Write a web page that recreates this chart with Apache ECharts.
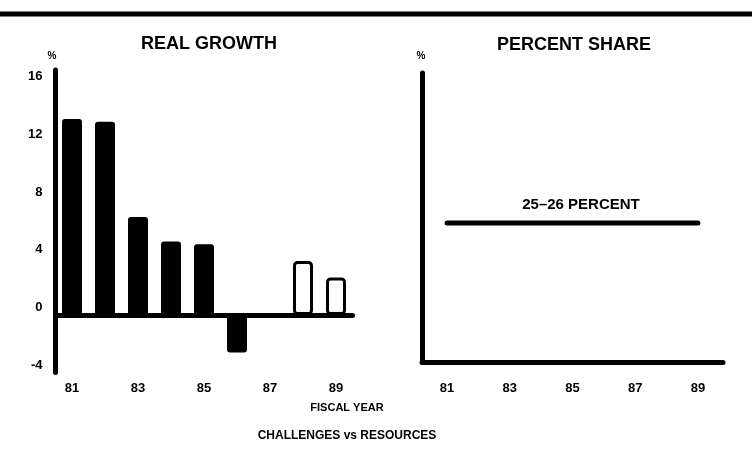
<!DOCTYPE html>
<html>
<head>
<meta charset="utf-8">
<script src="https://cdn.jsdelivr.net/npm/echarts@6/dist/echarts.min.js"></script>
<style>
html,body{margin:0;padding:0;background:#fff;}
#c{width:752px;height:456px;}
</style>
</head>
<body>
<div id="c"></div>
<script>
// ---- data ----
const growthYears = ['81','82','83','84','85','86','87','88','89'];
const growthValues = [13.6, 13.4, 6.8, 5.1, 4.9, -2.6, null, 3.75, 2.6];
const projectedYears = ['88','89']; // drawn as outline bars
const growthTicks = [-4, 0, 4, 8, 12, 16];

const shareYears = [81, 82, 83, 84, 85, 86, 87, 88, 89];
const shareValues = [25.5, 25.5, 25.5, 25.5, 25.5, 25.5, 25.5, 25.5, 25.5];
const shareTickLabels = [81, 83, 85, 87, 89];

const titleLeft = 'REAL GROWTH';
const titleRight = 'PERCENT SHARE';
const shareLabel = '25–26 PERCENT';
const xAxisName = 'FISCAL YEAR';
const caption = 'CHALLENGES vs RESOURCES';

// ---- chart ----
const FONT = '"Liberation Sans", Arial, sans-serif';
const chart = echarts.init(document.getElementById('c'), null, {renderer: 'canvas'});

const barData = growthValues.map((v, i) => {
  if (projectedYears.indexOf(growthYears[i]) >= 0) {
    return {value: v, itemStyle: {color: '#fff', borderColor: '#000', borderWidth: 3}};
  }
  return v;
});

const option = {
  animation: false,
  backgroundColor: '#fff',
  grid: [
    {left: 55.5, top: 70, width: 297, height: 302.6},
    {left: 422, top: 73, right: 29, bottom: 94}
  ],
  xAxis: [
    {
      gridIndex: 0, type: 'category', data: growthYears, boundaryGap: true,
      axisLine: {onZero: true, lineStyle: {color: '#000', width: 5, cap: 'round'}},
      axisTick: {show: false}, axisLabel: {show: false}, splitLine: {show: false}
    },
    {
      gridIndex: 0, type: 'category', data: growthYears, boundaryGap: true, position: 'bottom',
      axisLine: {show: false, onZero: false}, axisTick: {show: false},
      axisLabel: {interval: 1, margin: 9, color: '#000', fontFamily: FONT, fontWeight: 'bold', fontSize: 13},
      splitLine: {show: false}
    },
    {
      gridIndex: 1, type: 'value', min: 80.2, max: 89.8,
      axisLine: {onZero: false, lineStyle: {color: '#000', width: 5, cap: 'round'}},
      axisTick: {show: false},
      axisLabel: {customValues: shareTickLabels, margin: 20, color: '#000', fontFamily: FONT, fontWeight: 'bold', fontSize: 13},
      splitLine: {show: false}
    }
  ],
  yAxis: [
    {
      gridIndex: 0, type: 'value', min: -4, max: 17, interval: 4,
      axisLine: {show: true, onZero: false, lineStyle: {color: '#000', width: 5, cap: 'round'}},
      axisTick: {show: false},
      axisLabel: {
        margin: 13, color: '#000', fontFamily: FONT, fontWeight: 'bold', fontSize: 13,
        verticalAlign: 'bottom', padding: [0, 0, 1, 0],
        customValues: growthTicks
      },
      splitLine: {show: false}
    },
    {
      gridIndex: 1, type: 'value', min: 0, max: 53,
      axisLine: {show: true, onZero: false, lineStyle: {color: '#000', width: 5, cap: 'round'}},
      axisTick: {show: false}, axisLabel: {show: false}, splitLine: {show: false}
    }
  ],
  series: [
    {
      type: 'bar', xAxisIndex: 0, yAxisIndex: 0, data: barData,
      barWidth: 20,
      itemStyle: {color: '#000', borderRadius: 3}
    },
    {
      type: 'line', xAxisIndex: 2, yAxisIndex: 1,
      data: shareYears.map((y, i) => [y, shareValues[i]]),
      symbol: 'none',
      lineStyle: {color: '#000', width: 5, cap: 'round'}
    }
  ],
  graphic: [
    {type: 'line', shape: {x1: 0, y1: 14, x2: 752, y2: 14}, style: {stroke: '#000', lineWidth: 5}},
    {type: 'text', x: 209, y: 44, style: {text: titleLeft, fill: '#000', font: 'bold 18px ' + FONT, textAlign: 'center', textVerticalAlign: 'middle'}},
    {type: 'text', x: 574, y: 45, style: {text: titleRight, fill: '#000', font: 'bold 18px ' + FONT, textAlign: 'center', textVerticalAlign: 'middle'}},
    {type: 'text', x: 52, y: 56, style: {text: '%', fill: '#000', font: 'bold 10px ' + FONT, textAlign: 'center', textVerticalAlign: 'middle'}},
    {type: 'text', x: 421, y: 56, style: {text: '%', fill: '#000', font: 'bold 10px ' + FONT, textAlign: 'center', textVerticalAlign: 'middle'}},
    {type: 'text', x: 581, y: 205, style: {text: shareLabel, fill: '#000', font: 'bold 15px ' + FONT, textAlign: 'center', textVerticalAlign: 'middle'}},
    {type: 'text', x: 347, y: 408, style: {text: xAxisName, fill: '#000', font: 'bold 11px ' + FONT, textAlign: 'center', textVerticalAlign: 'middle'}},
    {type: 'text', x: 347, y: 436, style: {text: caption, fill: '#000', font: 'bold 12px ' + FONT, textAlign: 'center', textVerticalAlign: 'middle'}}
  ]
};
chart.setOption(option);
</script>
</body>
</html>
